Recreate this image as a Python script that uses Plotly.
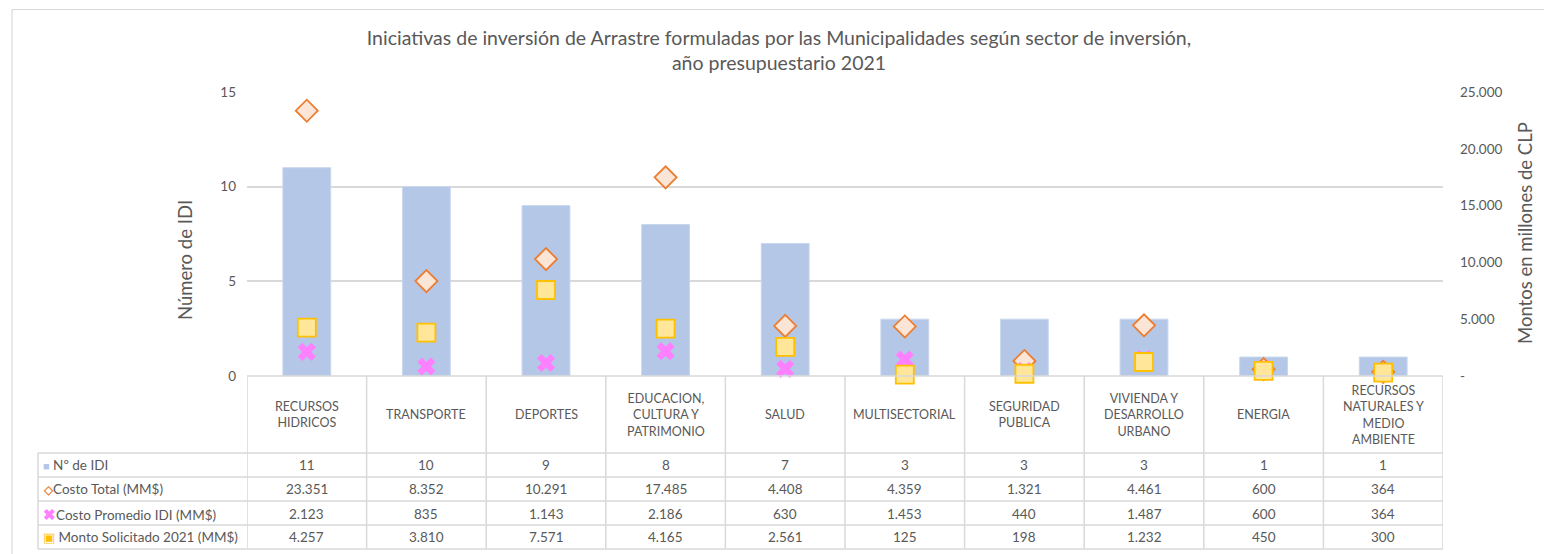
import plotly.graph_objects as go

# ---------------- data ----------------
categories = ["RECURSOS HIDRICOS", "TRANSPORTE", "DEPORTES", "EDUCACION, CULTURA Y PATRIMONIO",
              "SALUD", "MULTISECTORIAL", "SEGURIDAD PUBLICA", "VIVIENDA Y DESARROLLO URBANO",
              "ENERGIA", "RECURSOS NATURALES Y MEDIO AMBIENTE"]
category_labels = ["RECURSOS<br>HIDRICOS", "TRANSPORTE", "DEPORTES", "EDUCACION,<br>CULTURA Y<br>PATRIMONIO",
                   "SALUD", "MULTISECTORIAL", "SEGURIDAD<br>PUBLICA", "VIVIENDA Y<br>DESARROLLO<br>URBANO",
                   "ENERGIA", "RECURSOS<br>NATURALES Y<br>MEDIO<br>AMBIENTE"]
n_idi = [11, 10, 9, 8, 7, 3, 3, 3, 1, 1]
costo_total = [23351, 8352, 10291, 17485, 4408, 4359, 1321, 4461, 600, 364]
costo_promedio = [2123, 835, 1143, 2186, 630, 1453, 440, 1487, 600, 364]
monto_solicitado = [4257, 3810, 7571, 4165, 2561, 125, 198, 1232, 450, 300]

left_tickvals = [0, 5, 10, 15]
right_tickvals = [0, 5000, 10000, 15000, 20000, 25000]
right_ticktext = ["-", "5.000", "10.000", "15.000", "20.000", "25.000"]

series_names = ["Nº de IDI", "Costo Total (MM$)", "Costo Promedio IDI (MM$)", "Monto Solicitado 2021 (MM$)"]

title_text = ("Iniciativas de inversión de Arrastre formuladas por las Municipalidades según sector de inversión,"
              "<br>año presupuestario 2021")

# ---------------- style ----------------
FONT = "Lato, 'Open Sans', sans-serif"
TXT = "#595959"
GRID = "#D9D9D9"
BAR = "#B4C7E7"
OR_LINE, OR_FILL = "#ED7D31", "#FBE5D6"
PINK = "#FF80FF"
YEL_LINE, YEL_FILL = "#FFC000", "#FFE699"

W, H = 1544, 554
L, R, T, B = 247, 1443, 92, 376
PW, PH = R - L, B - T


def px_x(x):
    return (x - L) / PW


def px_y(y):
    return (B - y) / PH


def fmt(v):
    return f"{v:,}".replace(",", ".")


fig = go.Figure()
fig.add_trace(go.Bar(x=categories, y=n_idi, name=series_names[0],
                     marker=dict(color=BAR, line=dict(color="#C9D7EE", width=1)), width=0.4, yaxis="y"))
fig.add_trace(go.Scatter(x=categories, y=costo_total, name=series_names[1], mode="markers", yaxis="y2",
                         cliponaxis=False,
                         marker=dict(symbol="diamond", size=17, color=OR_FILL, line=dict(color=OR_LINE, width=1.8))))
fig.add_trace(go.Scatter(x=categories, y=costo_promedio, name=series_names[2], mode="markers", yaxis="y2",
                         cliponaxis=False,
                         marker=dict(symbol="x", size=16, color=PINK, line=dict(width=0))))
fig.add_trace(go.Scatter(x=categories, y=monto_solicitado, name=series_names[3], mode="markers", yaxis="y2",
                         cliponaxis=False,
                         marker=dict(symbol="square", size=18, color=YEL_FILL, line=dict(color=YEL_LINE, width=1.8))))

shapes = []
# outer chart border
shapes.append(dict(type="rect", xref="paper", yref="paper", x0=px_x(12), x1=px_x(1560), y0=px_y(600), y1=px_y(9.5),
                   line=dict(color=GRID, width=1.2), layer="below"))

# table geometry (pixel rows)
row_edges = [453, 477, 501, 525, 549]
shapes.append(dict(type="line", xref="paper", yref="paper", x0=0, x1=1, y0=0, y1=0, line=dict(color=GRID, width=1.5)))
for ry in row_edges:
    shapes.append(dict(type="line", xref="paper", yref="paper", x0=px_x(38), x1=1, y0=px_y(ry), y1=px_y(ry),
                       line=dict(color=GRID, width=1.5)))
for i in range(len(categories) + 1):
    shapes.append(dict(type="line", xref="x", yref="paper", x0=i - 0.5, x1=i - 0.5, y0=0, y1=px_y(549),
                       line=dict(color=GRID, width=1.5)))
shapes.append(dict(type="line", xref="paper", yref="paper", x0=px_x(38), x1=px_x(38), y0=px_y(453), y1=px_y(549),
                   line=dict(color=GRID, width=1.5)))

annotations = []
for c, lab in zip(categories, category_labels):
    annotations.append(dict(x=c, xref="x", y=px_y(414.5), yref="paper", text=lab, showarrow=False,
                             font=dict(family=FONT, size=12.5, color=TXT), align="center",
                             xanchor="center", yanchor="middle"))

rows = [n_idi, costo_total, costo_promedio, monto_solicitado]
keys = [f'<span style="color:{BAR};font-size:11px">■</span> ',
        f'<span style="color:{OR_LINE};font-size:12px"><b>◇</b></span>',
        f'<span style="color:{PINK};font-size:15px"><b>✖</b></span>',
        f'<span style="color:{YEL_LINE};font-size:13px">▣</span> ']
row_centers = [465, 489, 513.5, 537]
for r, (vals, name, key) in enumerate(zip(rows, series_names, keys)):
    yc = px_y(row_centers[r])
    for c, v in zip(categories, vals):
        annotations.append(dict(x=c, xref="x", y=yc, yref="paper", text=fmt(v), showarrow=False,
                                font=dict(family=FONT, size=13.5, color=TXT), xanchor="center", yanchor="middle"))
    annotations.append(dict(x=px_x(41), xref="paper", y=yc, yref="paper", text=key + name, showarrow=False,
                            font=dict(family=FONT, size=13.5, color=TXT), xanchor="left", yanchor="middle"))

annotations.append(dict(x=px_x(185), xref="paper", y=px_y(260), yref="paper", text="Número de IDI", textangle=-90,
                        showarrow=False, font=dict(family=FONT, size=18.5, color=TXT), xanchor="center", yanchor="middle"))
annotations.append(dict(x=px_x(1525), xref="paper", y=px_y(233), yref="paper", text="Montos en millones de CLP",
                        textangle=-90, showarrow=False, font=dict(family=FONT, size=18.5, color=TXT),
                        xanchor="center", yanchor="middle"))

fig.update_layout(
    width=W, height=H,
    margin=dict(l=L, r=W - R, t=T, b=H - B, pad=0),
    paper_bgcolor="white", plot_bgcolor="white",
    showlegend=False,
    title=dict(text=title_text, x=779 / W, xanchor="center", y=1 - 45 / H, yanchor="middle",
               font=dict(family=FONT, size=19.5, color=TXT)),
    xaxis=dict(type="category", range=[-0.5, len(categories) - 0.5], showticklabels=False, showgrid=False,
               zeroline=False, showline=False, ticks=""),
    yaxis=dict(range=[0, 15], tickvals=left_tickvals, showgrid=True, gridcolor=GRID, gridwidth=1.5, zeroline=False,
               showline=False, tickfont=dict(family=FONT, size=13.5, color=TXT), ticklabelstandoff=10),
    yaxis2=dict(range=[0, 25000], overlaying="y", side="right", tickvals=right_tickvals, ticktext=right_ticktext,
                showgrid=False, zeroline=False, showline=False, tickfont=dict(family=FONT, size=13.5, color=TXT),
                ticklabelstandoff=16),
    shapes=shapes,
    annotations=annotations,
    bargap=0.6,
)

fig.write_html("out.html", config={"displayModeBar": False},
               post_script="document.body.style.margin='0';document.body.style.overflow='hidden';")
